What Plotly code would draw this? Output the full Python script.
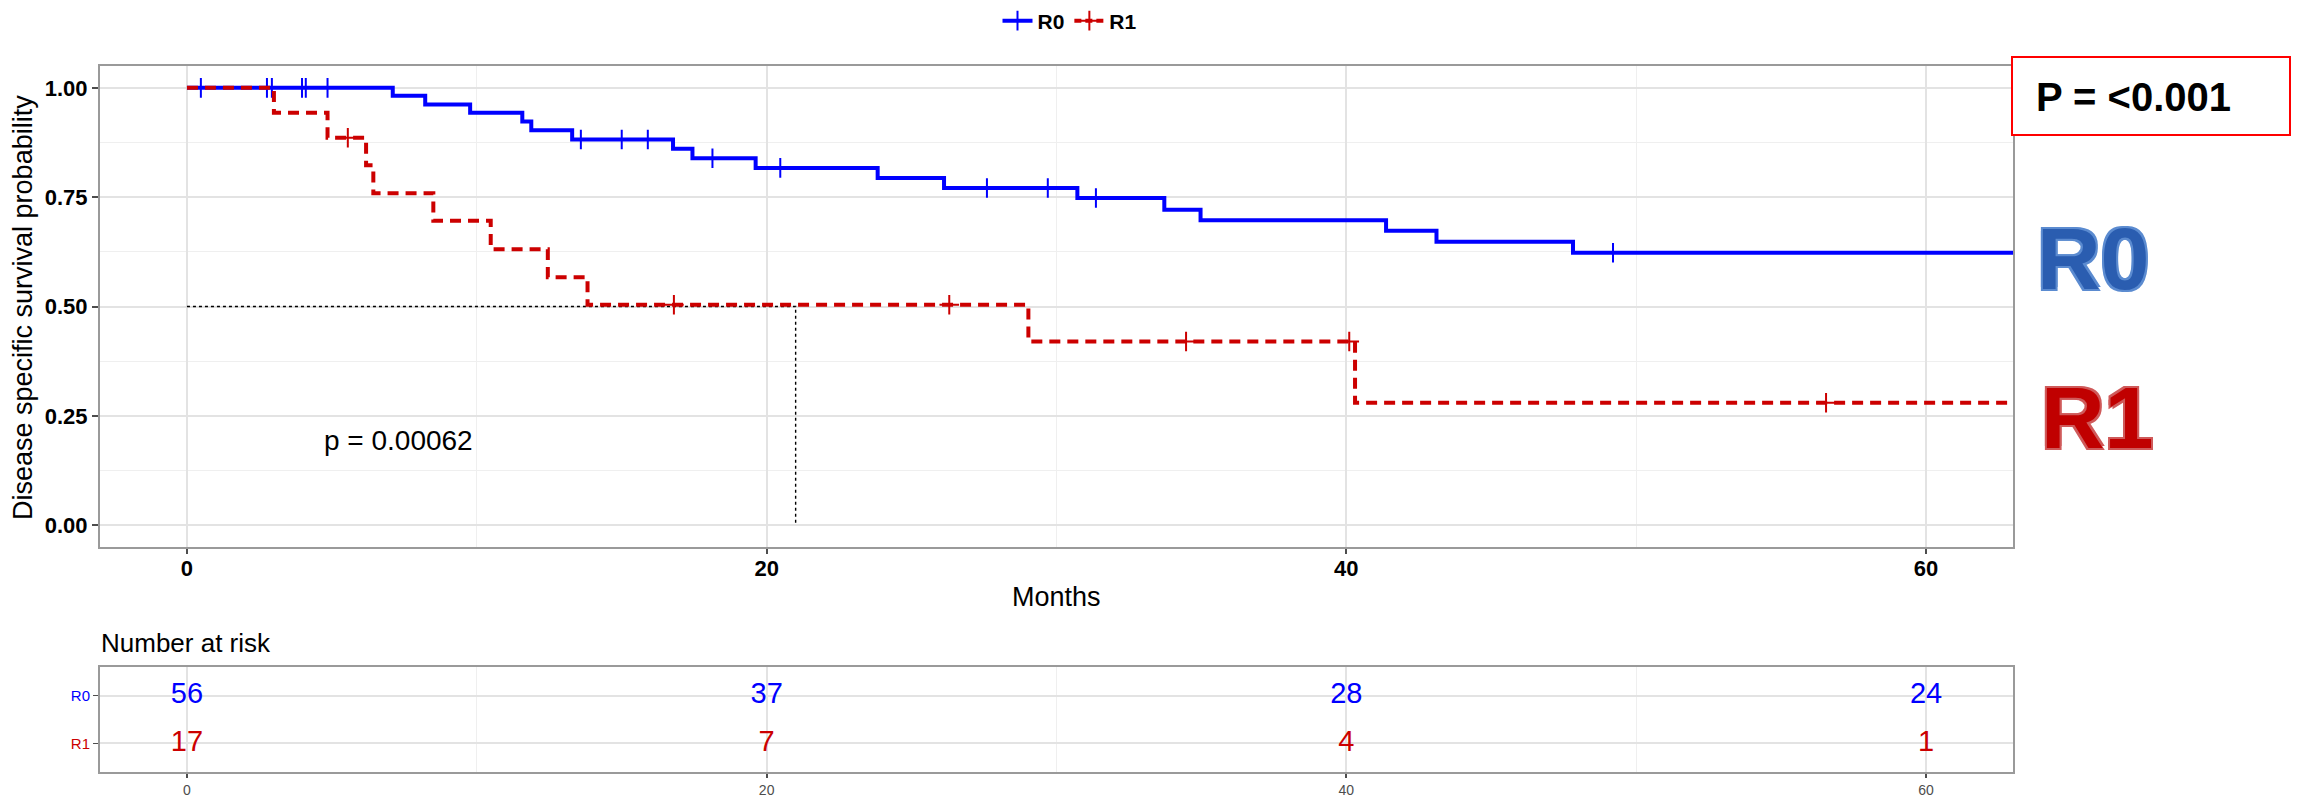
import numpy as np
import plotly.graph_objects as go

# ---------------- data ----------------
groups = ["R0", "R1"]

r0_time = [0, 7.1, 8.22, 9.77, 11.57, 11.88, 13.29, 16.77, 17.44, 19.62, 23.83,
           26.12, 30.72, 33.72, 34.97, 41.37, 43.11, 47.82, 64]
r0_surv = [1.0, 0.982, 0.962, 0.943, 0.923, 0.903, 0.882, 0.861, 0.839, 0.817, 0.794,
           0.771, 0.748, 0.721, 0.697, 0.673, 0.648, 0.623, 0.623]
r0_censor = [0.48, 2.76, 2.93, 3.97, 4.1, 4.85, 13.59, 15.0, 15.9, 18.13, 20.47,
             27.6, 29.7, 31.36, 49.2]

r1_time = [0, 3.0, 4.85, 6.18, 6.43, 8.5, 10.48, 12.45, 13.82, 29.03, 40.3, 64]
r1_surv = [1.0, 0.943, 0.886, 0.823, 0.759, 0.696, 0.631, 0.567, 0.504, 0.420, 0.280, 0.280]
r1_censor = [5.55, 16.8, 26.3, 34.47, 40.1, 56.55]

median_r1 = 21.0
median_level = 0.5

risk_times = [0, 20, 40, 60]
risk_r0 = [56, 37, 28, 24]
risk_r1 = [17, 7, 4, 1]

x_ticks = [0, 20, 40, 60]
y_ticks = [0.0, 0.25, 0.50, 0.75, 1.00]

pvalue_text = "p = 0.00062"
pbox_text = "P = <0.001"

BLUE = "#0000FF"
RED = "#CC0000"


def step_value(times, surv, t):
    times = np.asarray(times)
    idx = np.searchsorted(times, t, side="right") - 1
    return np.asarray(surv)[idx]


fig = go.Figure()

LW = 4
# survival curves
fig.add_trace(go.Scatter(x=r0_time, y=r0_surv, mode="lines", line_shape="hv",
                         line=dict(color=BLUE, width=LW), showlegend=False,
                         xaxis="x", yaxis="y"))
fig.add_trace(go.Scatter(x=r0_censor, y=step_value(r0_time, r0_surv, r0_censor),
                         mode="markers",
                         marker=dict(symbol="cross-thin", size=14,
                                     line=dict(color=BLUE, width=2)),
                         showlegend=False, xaxis="x", yaxis="y"))

# median line
fig.add_trace(go.Scatter(x=[0, median_r1, median_r1], y=[median_level, median_level, 0],
                         mode="lines", line=dict(color="black", width=1.4, dash="dot"),
                         showlegend=False, xaxis="x", yaxis="y"))

fig.add_trace(go.Scatter(x=r1_time, y=r1_surv, mode="lines", line_shape="hv",
                         line=dict(color=RED, width=LW, dash="11px,7px"), showlegend=False,
                         xaxis="x", yaxis="y"))
fig.add_trace(go.Scatter(x=r1_censor, y=step_value(r1_time, r1_surv, r1_censor),
                         mode="markers",
                         marker=dict(symbol="cross-thin", size=14,
                                     line=dict(color=RED, width=2)),
                         showlegend=False, xaxis="x", yaxis="y"))

# legend entries
fig.add_trace(go.Scatter(x=[None], y=[None], mode="lines+markers", name=groups[0],
                         line=dict(color=BLUE, width=LW),
                         marker=dict(symbol="cross-thin", size=14, line=dict(color=BLUE, width=2)),
                         xaxis="x", yaxis="y"))
fig.add_trace(go.Scatter(x=[None], y=[None], mode="lines+markers", name=groups[1],
                         line=dict(color=RED, width=LW, dash="7px,4px"),
                         marker=dict(symbol="cross-thin", size=14, line=dict(color=RED, width=2)),
                         xaxis="x", yaxis="y"))

# risk table
fig.add_trace(go.Scatter(x=risk_times, y=[1] * len(risk_times), mode="text",
                         text=[str(v) for v in risk_r0],
                         textfont=dict(color=BLUE, size=29, family="Liberation Sans"),
                         showlegend=False, xaxis="x2", yaxis="y2"))
fig.add_trace(go.Scatter(x=risk_times, y=[0] * len(risk_times), mode="text",
                         text=[str(v) for v in risk_r1],
                         textfont=dict(color=RED, size=29, family="Liberation Sans"),
                         showlegend=False, xaxis="x2", yaxis="y2"))

W, H = 2297, 797
L, R, T, B = 100, 2297 - 2013, 50, 22


def px(xp):
    return (xp - L) / (W - L - R)


def py(yp):
    return (H - B - yp) / (H - T - B)


grid_major = "#e3e3e3"
grid_minor = "#efefef"
border = "#9a9a9a"

common_x = dict(range=[-3, 63], tickvals=x_ticks, showgrid=True, gridcolor=grid_major,
                gridwidth=1.5, zeroline=False, showline=True, mirror=True,
                linecolor=border, linewidth=2, ticks="outside",
                tickcolor="#4d4d4d", tickwidth=1.5, automargin=False,
                minor=dict(dtick=10, tick0=0, showgrid=True, gridcolor=grid_minor,
                           gridwidth=1, ticks=""))

fig.update_layout(
    width=W, height=H, autosize=False,
    margin=dict(l=L, r=R, t=T, b=B, autoexpand=False),
    paper_bgcolor="white", plot_bgcolor="white",
    font=dict(family="Liberation Sans", color="black"),
    xaxis=dict(domain=[0, 1], anchor="y", **common_x, ticklen=5, ticklabelstandoff=-4,
               tickfont=dict(size=22, color="black", weight="bold")),
    yaxis=dict(domain=[py(547), py(66)], anchor="x", range=[-0.05, 1.05],
               tickvals=y_ticks, tickformat=".2f", showgrid=True, gridcolor=grid_major,
               gridwidth=1.5, zeroline=False, showline=True, mirror=True,
               linecolor=border, linewidth=2, ticks="outside", ticklen=6,
               tickcolor="#4d4d4d", tickwidth=1.5, automargin=False,
               tickfont=dict(size=22, color="black", weight="bold"),
               minor=dict(dtick=0.125, tick0=0, showgrid=True, gridcolor=grid_minor,
                          gridwidth=1, ticks="")),
    xaxis2=dict(domain=[0, 1], anchor="y2", **common_x, ticklen=4,
                tickfont=dict(size=14, color="#4d4d4d")),
    yaxis2=dict(domain=[py(772), py(667)], anchor="x2", range=[-0.6, 1.6],
                tickvals=[0, 1],
                ticktext=[f"<span style='color:{RED}'>{groups[1]}</span>",
                          f"<span style='color:{BLUE}'>{groups[0]}</span>"],
                showgrid=True, gridcolor=grid_major, gridwidth=1.5, zeroline=False,
                showline=True, mirror=True, linecolor=border, linewidth=2,
                ticks="outside", ticklen=5, tickcolor="#4d4d4d", automargin=False,
                tickfont=dict(size=15)),
    legend=dict(orientation="h", xref="container", yref="container",
                x=1070 / W, y=1 - 21 / H, xanchor="center", yanchor="middle",
                font=dict(size=21, weight="bold"), itemwidth=30, tracegroupgap=0,
                bgcolor="rgba(0,0,0,0)"),
    showlegend=True,
)

annotations = [
    dict(text="Months", x=0.5, y=py(597), xref="paper", yref="paper",
         xanchor="center", yanchor="middle", showarrow=False,
         font=dict(size=27, color="black")),
    dict(text="Disease specific survival probability", x=px(23), y=py(308),
         xref="paper", yref="paper", xanchor="center", yanchor="middle",
         textangle=-90, showarrow=False, font=dict(size=27, color="black")),
    dict(text="Number at risk", x=px(99), y=py(643), xref="paper", yref="paper",
         xanchor="left", yanchor="middle", showarrow=False,
         font=dict(size=26, color="black")),
    dict(text=pvalue_text, x=7.3, y=0.194, xref="x", yref="y",
         xanchor="center", yanchor="middle", showarrow=False,
         font=dict(size=28, color="black")),
    dict(text=pbox_text, x=px(2034), y=py(97), xref="paper", yref="paper",
         xanchor="left", yanchor="middle", showarrow=False,
         font=dict(size=40, color="black", weight="bold",
                   family="Liberation Sans Narrow, Liberation Sans")),
    dict(text=groups[0], x=px(2093), y=py(258), xref="paper", yref="paper",
         xanchor="center", yanchor="middle", showarrow=False,
         font=dict(size=88, color="#2a5db0", weight="bold",
                   family="Liberation Sans Narrow, Liberation Sans",
                   shadow="2px 2px 0 #5b8bd0, -2px -2px 0 #5b8bd0, 2px -2px 0 #5b8bd0, -2px 2px 0 #5b8bd0")),
    dict(text=groups[1], x=px(2097), y=py(417), xref="paper", yref="paper",
         xanchor="center", yanchor="middle", showarrow=False,
         font=dict(size=88, color="#C00000", weight="bold",
                   family="Liberation Sans Narrow, Liberation Sans",
                   shadow="2px 2px 0 #cf5a5a, -2px -2px 0 #cf5a5a, 2px -2px 0 #cf5a5a, -2px 2px 0 #cf5a5a")),
]
fig.update_layout(annotations=annotations)

fig.add_shape(type="rect", xref="paper", yref="paper",
              x0=px(2012), x1=px(2290), y0=py(135), y1=py(57),
              line=dict(color="#FF0000", width=2), fillcolor="white", layer="above")

fig.write_html("out.html", config={"displayModeBar": False},
               post_script="document.body.style.margin='0px';")
